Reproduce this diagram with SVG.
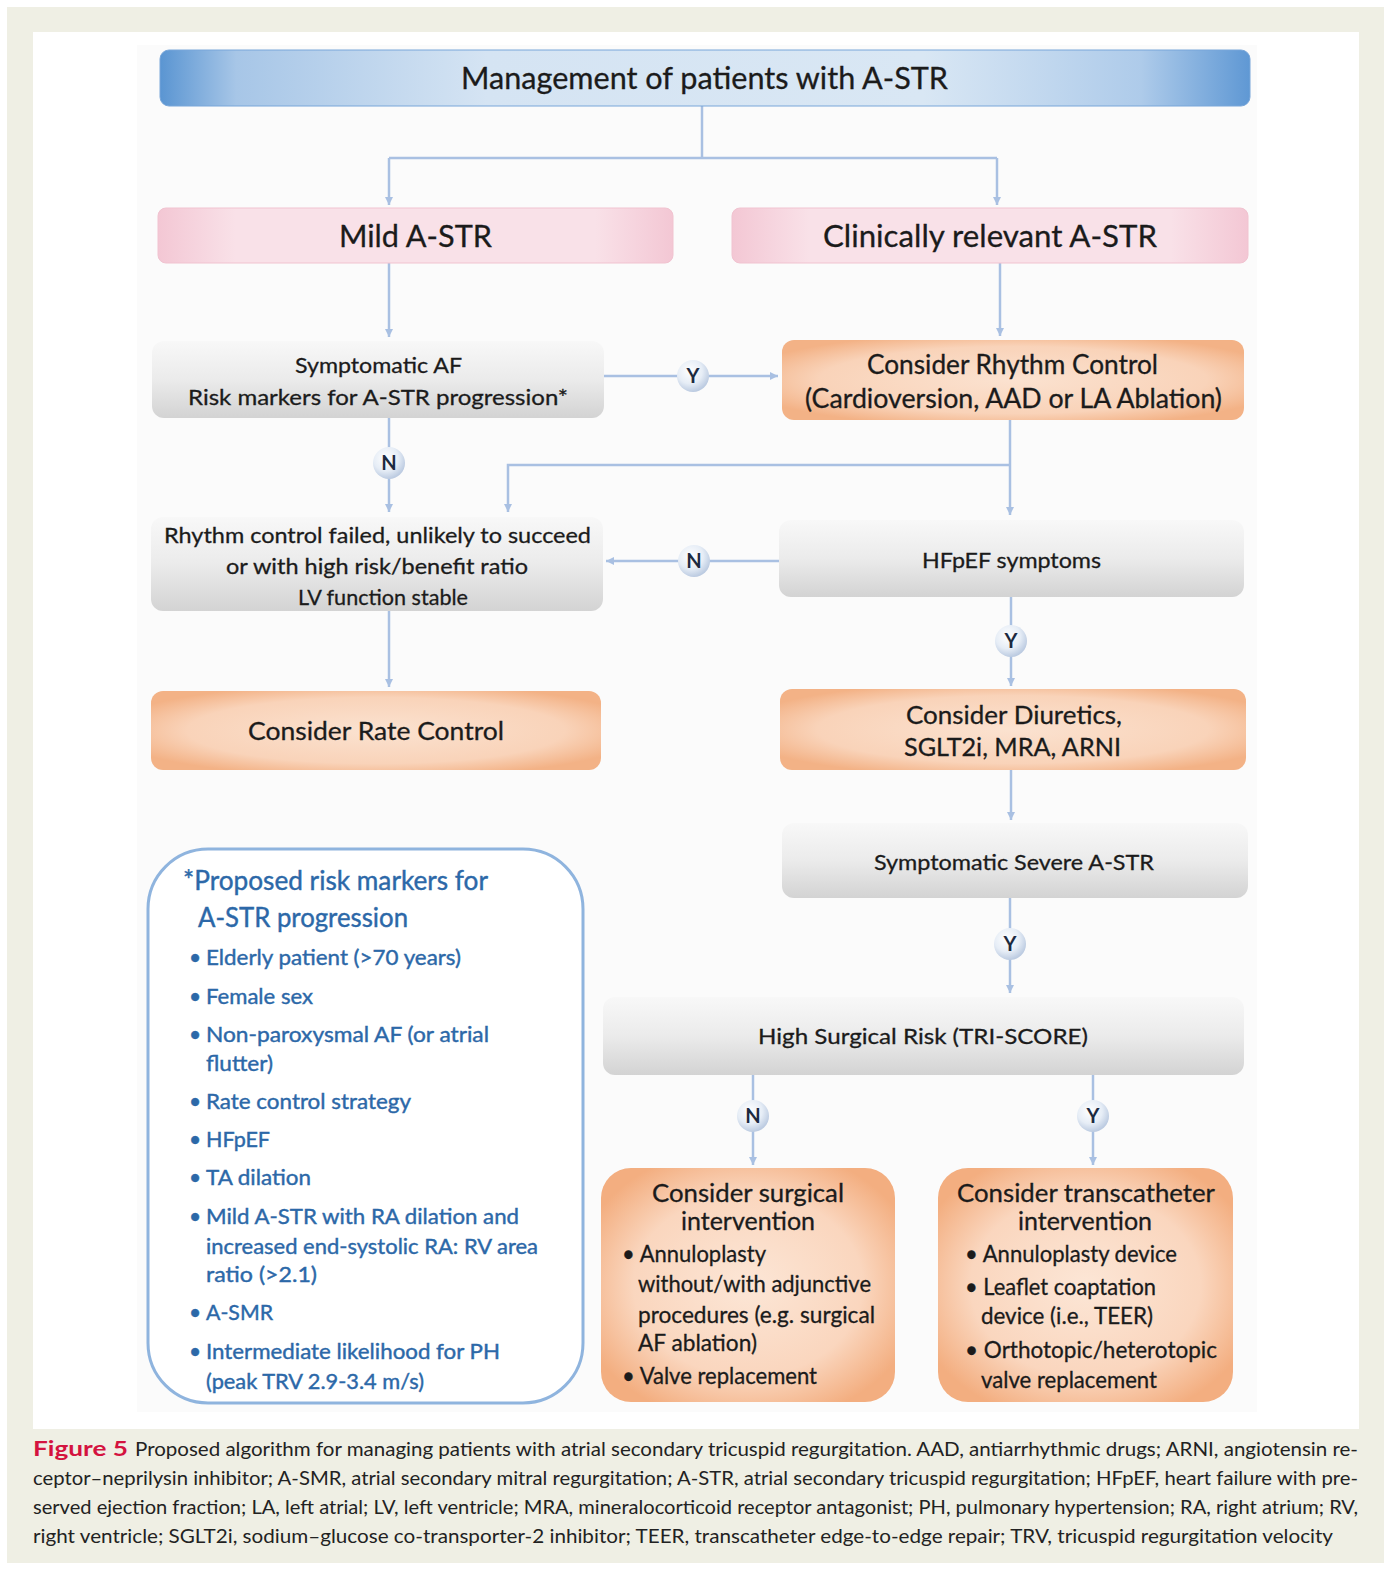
<svg xmlns="http://www.w3.org/2000/svg" width="1386" height="1570" viewBox="0 0 1386 1570">
<defs>
<style>
.t{font-family:Lato,"Liberation Sans",sans-serif;fill:#1b1b1b;stroke:#1b1b1b;stroke-width:0.3;}
.b{font-family:Lato,"Liberation Sans",sans-serif;fill:#2c68a8;stroke:#2c68a8;stroke-width:0.4;}
.c{fill:none;stroke:#a9c0e2;stroke-width:2.5;}
.yn{font-family:Lato,"Liberation Sans",sans-serif;font-weight:bold;font-size:20px;fill:#1c2a40;text-anchor:middle;}
.cap{font-family:Lato,"Liberation Sans",sans-serif;font-size:20px;fill:#222;}
</style>
<linearGradient id="gHead" x1="0" y1="0" x2="1" y2="0">
<stop offset="0" stop-color="#5a95d2"/><stop offset="0.07" stop-color="#a7c6e7"/><stop offset="0.3" stop-color="#d5e4f3"/><stop offset="0.7" stop-color="#d9e7f4"/><stop offset="0.9" stop-color="#aecbea"/><stop offset="1" stop-color="#5f98d4"/>
</linearGradient>
<linearGradient id="gPink" x1="0" y1="0" x2="1" y2="0">
<stop offset="0" stop-color="#f3c7d4"/><stop offset="0.15" stop-color="#f9e1e8"/><stop offset="0.85" stop-color="#f9e1e8"/><stop offset="1" stop-color="#f3c7d4"/>
</linearGradient>
<linearGradient id="gGray" x1="0" y1="0" x2="0" y2="1">
<stop offset="0" stop-color="#f8f8f8"/><stop offset="0.5" stop-color="#ebebeb"/><stop offset="1" stop-color="#d3d3d3"/>
</linearGradient>
<radialGradient id="gOr" cx="0.5" cy="0.5" r="0.6">
<stop offset="0" stop-color="#fbe2d0"/><stop offset="0.7" stop-color="#f9d3b9"/><stop offset="1" stop-color="#f3b286"/>
</radialGradient>
<radialGradient id="gOr2" cx="0.5" cy="0.5" r="0.6">
<stop offset="0" stop-color="#fce6d6"/><stop offset="0.65" stop-color="#fad6be"/><stop offset="1" stop-color="#f3ae80"/>
</radialGradient>
<radialGradient id="gCirc" cx="0.4" cy="0.35" r="0.65">
<stop offset="0" stop-color="#ffffff"/><stop offset="0.6" stop-color="#e6edf6"/><stop offset="1" stop-color="#bccbe1"/>
</radialGradient>
<marker id="arr" markerWidth="10" markerHeight="10" refX="8" refY="4" orient="auto" markerUnits="userSpaceOnUse">
<path d="M0,0 L8,4 L0,8 z" fill="#a9c0e2"/>
</marker>
</defs>

<rect x="0" y="0" width="1386" height="1570" fill="#ffffff"/>
<rect x="7" y="7" width="1377" height="1556" fill="#efefe4"/>
<rect x="33" y="32" width="1326" height="1397" fill="#ffffff"/>
<rect x="137" y="45" width="1120" height="1367" fill="#fbfbfb"/>

<g id="connectors">
<path class="c" d="M702,106 V158"/>
<path class="c" d="M389,158 H997"/>
<path class="c" d="M389,158 V205" marker-end="url(#arr)"/>
<path class="c" d="M997,158 V205" marker-end="url(#arr)"/>
<path class="c" d="M389,263 V337" marker-end="url(#arr)"/>
<path class="c" d="M1000,263 V336" marker-end="url(#arr)"/>
<path class="c" d="M604,376 H778" marker-end="url(#arr)"/>
<path class="c" d="M389,418 V512" marker-end="url(#arr)"/>
<path class="c" d="M1010,420 V515" marker-end="url(#arr)"/>
<path class="c" d="M1010,465 H508 V512" marker-end="url(#arr)"/>
<path class="c" d="M779,561 H606" marker-end="url(#arr)"/>
<path class="c" d="M389,611 V687" marker-end="url(#arr)"/>
<path class="c" d="M1011,597 V686" marker-end="url(#arr)"/>
<path class="c" d="M1011,770 V820" marker-end="url(#arr)"/>
<path class="c" d="M1010,898 V993" marker-end="url(#arr)"/>
<path class="c" d="M753,1075 V1165" marker-end="url(#arr)"/>
<path class="c" d="M1093,1075 V1165" marker-end="url(#arr)"/>
</g>

<g id="labels">
<circle cx="693" cy="376" r="16" fill="url(#gCirc)"/><text class="yn" x="693" y="383">Y</text>
<circle cx="389" cy="463" r="16" fill="url(#gCirc)"/><text class="yn" x="389" y="470">N</text>
<circle cx="694" cy="561" r="16" fill="url(#gCirc)"/><text class="yn" x="694" y="568">N</text>
<circle cx="1011" cy="641" r="16" fill="url(#gCirc)"/><text class="yn" x="1011" y="648">Y</text>
<circle cx="1010" cy="944" r="16" fill="url(#gCirc)"/><text class="yn" x="1010" y="951">Y</text>
<circle cx="753" cy="1116" r="16" fill="url(#gCirc)"/><text class="yn" x="753" y="1123">N</text>
<circle cx="1093" cy="1116" r="16" fill="url(#gCirc)"/><text class="yn" x="1093" y="1123">Y</text>
</g>

<g id="header">
<rect x="160" y="50" width="1090" height="56" rx="9" fill="url(#gHead)" stroke="#78a6d9" stroke-width="1"/>
<text class="t" x="461" y="89" font-size="31" textLength="487" lengthAdjust="spacingAndGlyphs">Management of patients with A-STR</text>
</g>

<g id="mild">
<rect x="158" y="208" width="515" height="55" rx="8" fill="url(#gPink)" stroke="#f1c3d0" stroke-width="1"/>
<text class="t" x="339" y="247" font-size="31" textLength="153" lengthAdjust="spacingAndGlyphs">Mild A-STR</text>
</g>

<g id="clinical">
<rect x="732" y="208" width="516" height="55" rx="8" fill="url(#gPink)" stroke="#f1c3d0" stroke-width="1"/>
<text class="t" x="823" y="247" font-size="31" textLength="334" lengthAdjust="spacingAndGlyphs">Clinically relevant A-STR</text>
</g>

<g id="symptomatic-af">
<rect x="152" y="341" width="452" height="77" rx="12" fill="url(#gGray)"/>
<text class="t" x="295" y="373" font-size="22" textLength="167" lengthAdjust="spacingAndGlyphs">Symptomatic AF</text>
<text class="t" x="188" y="405" font-size="22" textLength="380" lengthAdjust="spacingAndGlyphs">Risk markers for A-STR progression*</text>
</g>

<g id="rhythm-control">
<rect x="782" y="340" width="462" height="80" rx="12" fill="url(#gOr)"/>
<text class="t" x="867" y="374" font-size="26" textLength="291" lengthAdjust="spacingAndGlyphs">Consider Rhythm Control</text>
<text class="t" x="805" y="408" font-size="26" textLength="417" lengthAdjust="spacingAndGlyphs">(Cardioversion, AAD or LA Ablation)</text>
</g>

<g id="rhythm-failed">
<rect x="151" y="517" width="452" height="94" rx="12" fill="url(#gGray)"/>
<text class="t" x="164" y="543" font-size="22" textLength="427" lengthAdjust="spacingAndGlyphs">Rhythm control failed, unlikely to succeed</text>
<text class="t" x="226" y="574" font-size="22" textLength="302" lengthAdjust="spacingAndGlyphs">or with high risk/benefit ratio</text>
<text class="t" x="298" y="605" font-size="22" textLength="170" lengthAdjust="spacingAndGlyphs">LV function stable</text>
</g>

<g id="hfpef">
<rect x="779" y="520" width="465" height="77" rx="12" fill="url(#gGray)"/>
<text class="t" x="922" y="568" font-size="22" textLength="179" lengthAdjust="spacingAndGlyphs">HFpEF symptoms</text>
</g>

<g id="rate-control">
<rect x="151" y="691" width="450" height="79" rx="12" fill="url(#gOr)"/>
<text class="t" x="248" y="740" font-size="25" textLength="256" lengthAdjust="spacingAndGlyphs">Consider Rate Control</text>
</g>

<g id="diuretics">
<rect x="780" y="689" width="466" height="81" rx="12" fill="url(#gOr)"/>
<text class="t" x="906" y="724" font-size="25" textLength="216" lengthAdjust="spacingAndGlyphs">Consider Diuretics,</text>
<text class="t" x="904" y="756" font-size="25" textLength="217" lengthAdjust="spacingAndGlyphs">SGLT2i, MRA, ARNI</text>
</g>

<g id="severe">
<rect x="782" y="823" width="466" height="75" rx="12" fill="url(#gGray)"/>
<text class="t" x="874" y="870" font-size="22" textLength="280" lengthAdjust="spacingAndGlyphs">Symptomatic Severe A-STR</text>
</g>

<g id="surgical-risk">
<rect x="603" y="997" width="641" height="78" rx="12" fill="url(#gGray)"/>
<text class="t" x="758" y="1044" font-size="22" textLength="330" lengthAdjust="spacingAndGlyphs">High Surgical Risk (TRI-SCORE)</text>
</g>

<g id="surgical">
<rect x="601" y="1168" width="294" height="234" rx="30" fill="url(#gOr2)"/>
<text class="t" x="652" y="1202" font-size="25" textLength="192" lengthAdjust="spacingAndGlyphs">Consider surgical</text>
<text class="t" x="681" y="1230" font-size="25" textLength="134" lengthAdjust="spacingAndGlyphs">intervention</text>
<text class="t" x="622" y="1262" font-size="23" textLength="144" lengthAdjust="spacingAndGlyphs">• Annuloplasty</text>
<text class="t" x="638" y="1292" font-size="23" textLength="233" lengthAdjust="spacingAndGlyphs">without/with adjunctive</text>
<text class="t" x="638" y="1323" font-size="23" textLength="237" lengthAdjust="spacingAndGlyphs">procedures (e.g. surgical</text>
<text class="t" x="638" y="1351" font-size="23" textLength="119" lengthAdjust="spacingAndGlyphs">AF ablation)</text>
<text class="t" x="622" y="1384" font-size="23" textLength="195" lengthAdjust="spacingAndGlyphs">• Valve replacement</text>
</g>

<g id="transcatheter">
<rect x="938" y="1168" width="295" height="234" rx="30" fill="url(#gOr2)"/>
<text class="t" x="957" y="1202" font-size="25" textLength="258" lengthAdjust="spacingAndGlyphs">Consider transcatheter</text>
<text class="t" x="1018" y="1230" font-size="25" textLength="134" lengthAdjust="spacingAndGlyphs">intervention</text>
<text class="t" x="965" y="1262" font-size="23" textLength="212" lengthAdjust="spacingAndGlyphs">• Annuloplasty device</text>
<text class="t" x="965" y="1295" font-size="23" textLength="191" lengthAdjust="spacingAndGlyphs">• Leaflet coaptation</text>
<text class="t" x="981" y="1324" font-size="23" textLength="172" lengthAdjust="spacingAndGlyphs">device (i.e., TEER)</text>
<text class="t" x="965" y="1358" font-size="23" textLength="252" lengthAdjust="spacingAndGlyphs">• Orthotopic/heterotopic</text>
<text class="t" x="981" y="1388" font-size="23" textLength="176" lengthAdjust="spacingAndGlyphs">valve replacement</text>
</g>

<g id="risk-markers">
<rect x="148" y="849" width="435" height="554" rx="60" fill="#ffffff" stroke="#8fb4de" stroke-width="3"/>
<text class="b" x="183" y="890" font-size="26" textLength="305" lengthAdjust="spacingAndGlyphs">*Proposed risk markers for</text>
<text class="b" x="198" y="927" font-size="26" textLength="210" lengthAdjust="spacingAndGlyphs">A-STR progression</text>
<g font-size="21">
<text class="b" x="189" y="965">•</text><text class="b" x="206" y="965" textLength="255" lengthAdjust="spacingAndGlyphs">Elderly patient (&gt;70 years)</text>
<text class="b" x="189" y="1004">•</text><text class="b" x="206" y="1004" textLength="107" lengthAdjust="spacingAndGlyphs">Female sex</text>
<text class="b" x="189" y="1042">•</text><text class="b" x="206" y="1042" textLength="283" lengthAdjust="spacingAndGlyphs">Non-paroxysmal AF (or atrial</text>
<text class="b" x="206" y="1071" textLength="67" lengthAdjust="spacingAndGlyphs">flutter)</text>
<text class="b" x="189" y="1109">•</text><text class="b" x="206" y="1109" textLength="205" lengthAdjust="spacingAndGlyphs">Rate control strategy</text>
<text class="b" x="189" y="1147">•</text><text class="b" x="206" y="1147" textLength="64" lengthAdjust="spacingAndGlyphs">HFpEF</text>
<text class="b" x="189" y="1185">•</text><text class="b" x="206" y="1185" textLength="105" lengthAdjust="spacingAndGlyphs">TA dilation</text>
<text class="b" x="189" y="1224">•</text><text class="b" x="206" y="1224" textLength="313" lengthAdjust="spacingAndGlyphs">Mild A-STR with RA dilation and</text>
<text class="b" x="206" y="1254" textLength="332" lengthAdjust="spacingAndGlyphs">increased end-systolic RA: RV area</text>
<text class="b" x="206" y="1282" textLength="111" lengthAdjust="spacingAndGlyphs">ratio (&gt;2.1)</text>
<text class="b" x="189" y="1320">•</text><text class="b" x="206" y="1320" textLength="67" lengthAdjust="spacingAndGlyphs">A-SMR</text>
<text class="b" x="189" y="1359">•</text><text class="b" x="206" y="1359" textLength="294" lengthAdjust="spacingAndGlyphs">Intermediate likelihood for PH</text>
<text class="b" x="206" y="1389" textLength="218" lengthAdjust="spacingAndGlyphs">(peak TRV 2.9-3.4 m/s)</text>
</g>
</g>

<g id="caption">
<text x="33" y="1456" font-family="Lato,'Liberation Sans',sans-serif" font-weight="bold" font-size="21" fill="#d4133f" textLength="95" lengthAdjust="spacingAndGlyphs">Figure 5</text>
<text class="cap" x="135" y="1456" textLength="1223" lengthAdjust="spacingAndGlyphs">Proposed algorithm for managing patients with atrial secondary tricuspid regurgitation. AAD, antiarrhythmic drugs; ARNI, angiotensin re-</text>
<text class="cap" x="33" y="1485" textLength="1325" lengthAdjust="spacingAndGlyphs">ceptor–neprilysin inhibitor; A-SMR, atrial secondary mitral regurgitation; A-STR, atrial secondary tricuspid regurgitation; HFpEF, heart failure with pre-</text>
<text class="cap" x="33" y="1514" textLength="1325" lengthAdjust="spacingAndGlyphs">served ejection fraction; LA, left atrial; LV, left ventricle; MRA, mineralocorticoid receptor antagonist; PH, pulmonary hypertension; RA, right atrium; RV,</text>
<text class="cap" x="33" y="1543" textLength="1300" lengthAdjust="spacingAndGlyphs">right ventricle; SGLT2i, sodium–glucose co-transporter-2 inhibitor; TEER, transcatheter edge-to-edge repair; TRV, tricuspid regurgitation velocity</text>
</g>
</svg>
